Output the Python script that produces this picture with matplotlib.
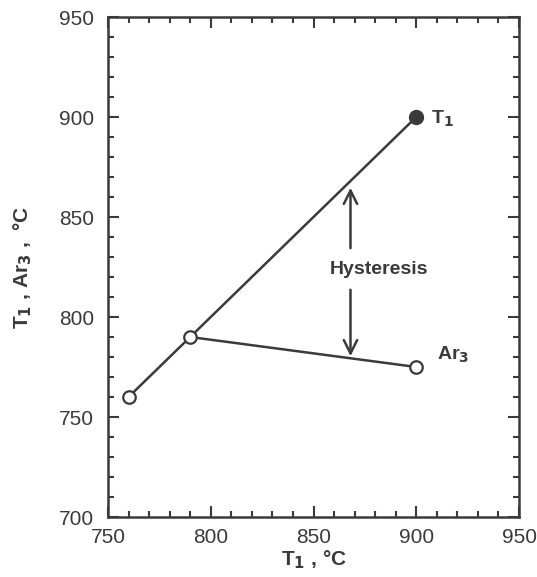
import matplotlib.pyplot as plt

# T1 line (open points, then the filled end point)
t1_x = [760, 790, 900]
t1_y = [760, 790, 900]
# Ar3 line
ar3_x = [790, 900]
ar3_y = [790, 775]

ink = "#3a3a3a"
plt.rcParams['font.family'] = ['Liberation Sans', 'DejaVu Sans']

fig = plt.figure(figsize=(5.37, 5.77), dpi=100)
ax = fig.add_axes([108 / 537, 60 / 577, 411 / 537, 500 / 577])

ax.plot(t1_x, t1_y, color=ink, lw=1.8, zorder=2)
ax.plot(ar3_x, ar3_y, color=ink, lw=1.8, zorder=2)
ax.plot(t1_x[:2], t1_y[:2], 'o', ms=9, mfc='white', mec=ink, mew=1.6, zorder=3)
ax.plot(ar3_x[1:], ar3_y[1:], 'o', ms=9, mfc='white', mec=ink, mew=1.6, zorder=3)
ax.plot(t1_x[2:], t1_y[2:], 'o', ms=10, mfc=ink, mec=ink, zorder=3)

# hysteresis arrows
ax.annotate("", xy=(868, 866), xytext=(868, 833),
            arrowprops=dict(arrowstyle="->", color=ink, lw=1.8, mutation_scale=24))
ax.annotate("", xy=(868, 779), xytext=(868, 815),
            arrowprops=dict(arrowstyle="->", color=ink, lw=1.8, mutation_scale=24))
ax.text(882, 824, "Hysteresis", ha='center', va='center', fontsize=14,
        fontweight='bold', color=ink)
ax.text(907, 899, "T$_\\mathbf{1}$", ha='left', va='center', fontsize=14,
        fontweight='bold', color=ink)
ax.text(910, 781, "Ar$_\\mathbf{3}$", ha='left', va='center', fontsize=14,
        fontweight='bold', color=ink)

ax.set_xlim(750, 950)
ax.set_ylim(700, 950)
ax.set_xticks([750, 800, 850, 900, 950])
ax.set_yticks([700, 750, 800, 850, 900, 950])
ax.set_xticks(range(750, 951, 10), minor=True)
ax.set_yticks(range(700, 951, 10), minor=True)
ax.tick_params(which='both', direction='in', top=True, right=True, colors=ink,
               labelsize=15, width=1.5)
ax.tick_params(which='major', length=8)
ax.tick_params(which='minor', length=4)
ax.tick_params(axis='y', pad=10)
ax.tick_params(axis='x', pad=8)
for s in ax.spines.values():
    s.set_color(ink)
    s.set_linewidth(1.8)

ax.set_xlabel("T$_\\mathbf{1}$ , °C", fontsize=15, fontweight='bold', color=ink, labelpad=1)
ax.set_ylabel("T$_\\mathbf{1}$ , Ar$_\\mathbf{3}$ ,  °C", fontsize=15, fontweight='bold',
              color=ink, labelpad=18)

fig.savefig("out.png", dpi=100)
